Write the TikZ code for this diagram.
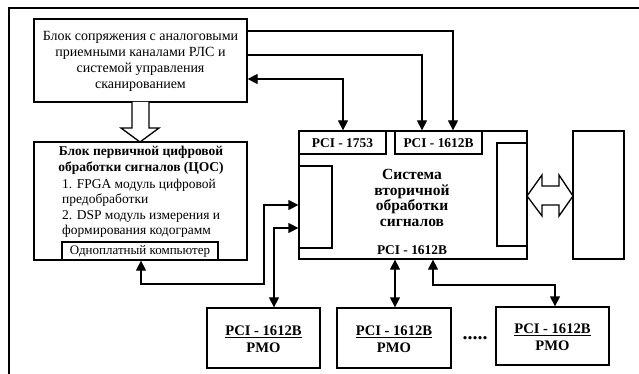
\documentclass[tikz,border=0pt]{standalone}
\usepackage{fontspec}
\setmainfont{Liberation Serif}
\usetikzlibrary{arrows.meta}
\begin{document}
\begin{tikzpicture}[x=1pt,y=-1pt,
  box/.style={draw,line width=1.3pt,fill=white,inner sep=0pt},
  conn/.style={line width=1.3pt,{Triangle[length=10pt,width=10pt]}-{Triangle[length=10pt,width=10pt]}},
  conn1/.style={line width=1.3pt,-{Triangle[length=10pt,width=10pt]}},
  txt/.style={font=\fontsize{14}{16}\selectfont,align=center,inner sep=0pt},
  btxt/.style={font=\fontsize{13.5}{15.5}\selectfont\bfseries,align=center,inner sep=0pt},
  sbtxt/.style={font=\fontsize{13.4}{15}\selectfont\bfseries,align=center,inner sep=0pt},
  ptxt/.style={font=\fontsize{14.6}{16.5}\selectfont\bfseries,align=center,inner sep=0pt}]
\useasboundingbox (0,0) rectangle (639,374);
\fill[white] (0,0) rectangle (639,374);
\draw[line width=1.2pt] (9,374) -- (9,8) -- (639,8);
% blocks
\node[box,minimum width=213pt,minimum height=83pt] (b1) at (140.5,60.5) {};
\node[txt] (b1t) at (140.5,61) {Блок сопряжения с аналоговыми\\приемными каналами РЛС и\\системой управления\\сканированием};
\node[box,minimum width=213pt,minimum height=118pt] (b2) at (140.5,201) {};
\node[btxt] (b2t) at (141,160.5) {Блок первичной цифровой\\обработки сигналов (ЦОС)};
\node[txt,font=\fontsize{13.5}{15.5}\selectfont,align=left,anchor=north west] (b2i) at (62,178.5) {1. FPGA модуль цифровой\\предобработки\\2. DSP модуль измерения и\\формирования кодограмм};
\node[box,minimum width=156pt,minimum height=18pt,font=\fontsize{13}{14}\selectfont] (comp) at (140,251) {Одноплатный компьютер};
% system
\node[box,minimum width=228pt,minimum height=128pt] (sys) at (413,195) {};
\node[box,minimum width=87pt,minimum height=23pt] (p1753) at (342.5,142.5) {};
\node[sbtxt] (p1753t) at (342.5,143) {PCI - 1753};
\node[box,minimum width=87pt,minimum height=23pt] (ptop) at (438.5,142.5) {};
\node[sbtxt] (ptopt) at (438.5,143) {PCI - 1612B};
\node[box,minimum width=33pt,minimum height=82pt] (lin) at (315.5,207) {};
\node[box,minimum width=30pt,minimum height=103pt] (rin) at (512,194.5) {};
\node[btxt,font=\fontsize{15.5}{15.5}\selectfont\bfseries] (syst) at (412,198) {Система\\вторичной\\обработки\\сигналов};
\node[sbtxt] (sysb) at (412,250) {PCI - 1612B};
\node[box,minimum width=51pt,minimum height=128pt] (rbox) at (598.5,195) {};
% PMO
\node[box,minimum width=113pt,minimum height=60pt] (pmo1) at (263.5,338) {};
\node[ptxt] (pmo1t) at (263.5,339) {\underline{PCI - 1612B}\\PMO};
\node[box,minimum width=114pt,minimum height=60pt] (pmo2) at (394,338) {};
\node[ptxt] (pmo2t) at (394,339) {\underline{PCI - 1612B}\\PMO};
\node[box,minimum width=113pt,minimum height=58pt] (pmo3) at (552.5,336) {};
\node[ptxt] (pmo3t) at (552.5,337) {\underline{PCI - 1612B}\\PMO};
\node[font=\fontsize{20}{20}\selectfont\bfseries,anchor=base,inner sep=0pt] (dots) at (475,339) {.....};
% connectors
\draw[conn1] (b1.east |- 0,31) -| (ptop.north -| 453,0);
\draw[conn1] (b1.east |- 0,55) -| (ptop.north -| 422,0);
\draw[conn] (b1.east |- 0,79) -| (p1753.north -| 343,0);
\draw[conn] (comp.south -| 141,0) -- (141,284) -| (264,205) -- (lin.west |- 0,205);
\draw[conn] (lin.west |- 0,228) -| (pmo1.north -| 274,0);
\draw[conn] (sys.south -| 395,0) -- (pmo2.north -| 395,0);
\draw[conn] (sys.south -| 433,0) -- (433,285) -| (pmo3.north -| 555,0);
% hollow arrows
\draw[line width=1.3pt,fill=white,line join=miter] (132,102) -- (132,128) -- (121,128) -- (140,142) -- (159,128) -- (149,128) -- (149,102);
\draw[line width=1.3pt,fill=white] (527,196) -- (542,175) -- (542,186) -- (559,186) -- (559,175) -- (573,196) -- (559,216) -- (559,205) -- (542,205) -- (542,216) -- cycle;
\end{tikzpicture}
\end{document}
